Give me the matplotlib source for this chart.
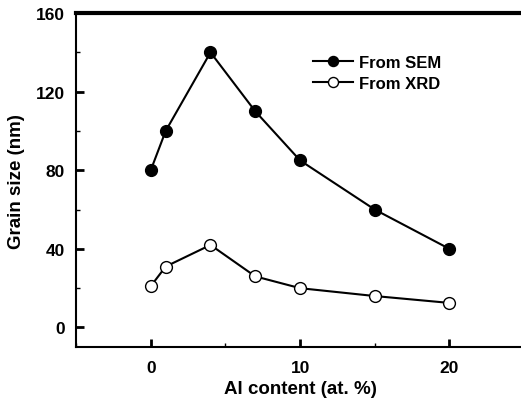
import matplotlib.pyplot as plt
from matplotlib.ticker import MultipleLocator

al = [0, 1, 4, 7, 10, 15, 20]
sem = [80, 100, 140, 110, 85, 60, 40]
xrd = [21, 31, 42, 26, 20, 16, 12.5]

plt.rcParams['font.family'] = ['Liberation Sans', 'DejaVu Sans']
plt.rcParams['font.weight'] = 'bold'

fig = plt.figure(figsize=(5.21, 4.02), dpi=100)
ax = fig.add_axes([0.146, 0.134, 0.86, 0.831])

ax.plot(al, sem, '-o', color='black', lw=1.5, ms=8.5, mfc='black', label='From SEM')
ax.plot(al, xrd, '-o', color='black', lw=1.5, ms=8.5, mfc='white', label='From XRD')

ax.set_xlim(-5, 25)
ax.set_ylim(-10, 160)
ax.set_xticks([0, 10, 20])
ax.set_yticks([0, 40, 80, 120, 160])
ax.xaxis.set_minor_locator(MultipleLocator(5))
ax.yaxis.set_minor_locator(MultipleLocator(20))
ax.tick_params(which='both', direction='in', labelsize=12.5, width=2)
ax.tick_params(which='major', length=6)
ax.tick_params(which='minor', length=3, width=1)
ax.tick_params(axis='x', pad=9)
ax.tick_params(axis='y', pad=8)

ax.spines['top'].set_linewidth(3)
ax.spines['left'].set_linewidth(1.5)
ax.spines['bottom'].set_linewidth(1.5)
ax.spines['right'].set_visible(False)

ax.set_xlabel('Al content (at. %)', fontsize=13.5, fontweight='bold', labelpad=4)
ax.set_ylabel('Grain size (nm)', fontsize=13.5, fontweight='bold', labelpad=8)

leg = ax.legend(loc='upper left', bbox_to_anchor=(0.495, 0.92), frameon=False,
                fontsize=12, markerscale=0.85, handlelength=2.4, handletextpad=0.35,
                labelspacing=0.35)

fig.savefig('out.png', dpi=100)
